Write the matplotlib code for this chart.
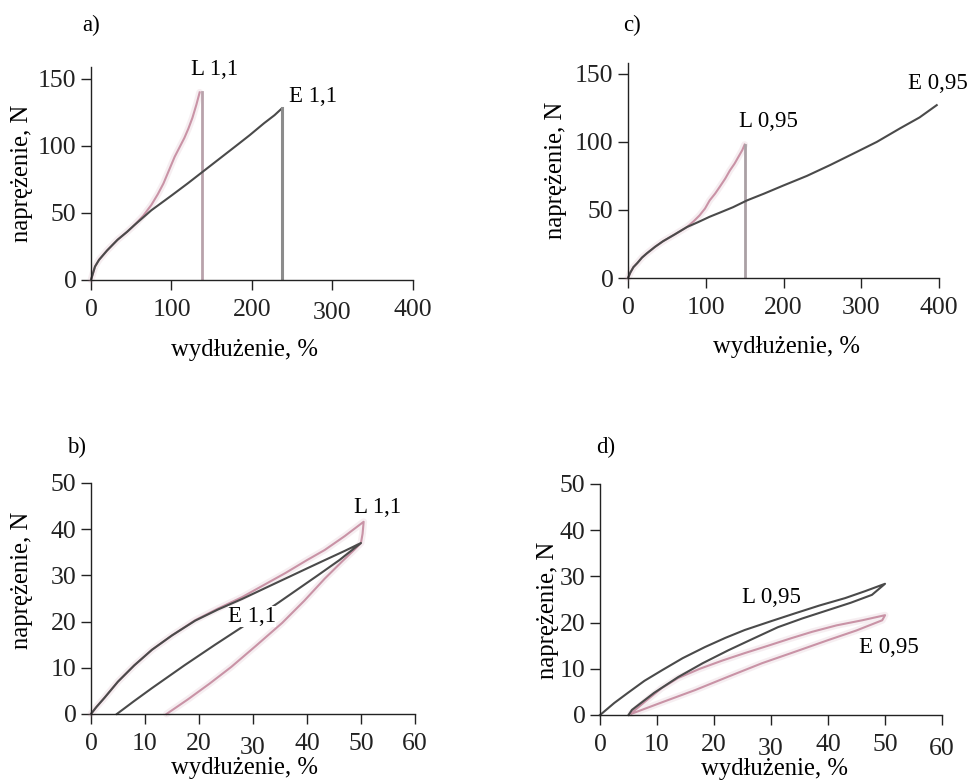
import matplotlib.pyplot as plt
from matplotlib.transforms import ScaledTranslation

plt.rcParams['font.family'] = ['Liberation Serif', 'DejaVu Serif']
plt.rcParams['font.size'] = 17

# a) tensile test to break, sample 1,1
a_L_x = [0, 2, 5, 10, 20, 33, 45, 54, 65, 75, 83, 90, 97, 104, 110, 116, 121, 126, 131, 135, 137.5, 137.5]
a_L_y = [0, 4, 10, 15, 22, 30, 36, 41, 48, 56, 64, 72, 82, 92, 99, 106, 113, 121, 131, 140, 140, 0]
a_E_x = [0, 2, 5, 10, 20, 33, 45, 54, 75, 100, 120, 135, 150, 165, 180, 197, 215, 228, 237, 237]
a_E_y = [0, 4, 10, 15, 22, 30, 36, 41, 52, 63, 72, 79, 86, 93, 100, 108, 117, 123, 128, 0]

# c) tensile test to break, sample 0,95
c_L_x = [0, 3, 7, 12, 18, 24, 35, 45, 60, 76, 85, 92, 99, 105, 112, 118, 125, 131, 137, 142, 147, 150, 150]
c_L_y = [0, 4, 8, 11, 15, 18, 23, 27, 32, 37.5, 42, 46, 51, 57, 62, 67, 73, 79, 84, 89, 94, 98, 0]
c_E_x = [0, 3, 7, 12, 18, 24, 35, 45, 60, 76, 90, 105, 118, 135, 153, 175, 200, 230, 260, 294, 320, 350, 375, 397]
c_E_y = [0, 4, 8, 11, 15, 18, 23, 27, 32, 37.5, 41, 45, 48, 52, 57, 62, 68, 75, 83, 92.6, 100, 110, 118, 127]

# b) cyclic loading to 50 %, sample 1,1
b_L_x = [0, 1, 2.5, 5, 8, 11.3, 15, 19.3, 23.5, 28, 32, 36, 40, 43.3, 47, 50.5,
         50.3, 50, 49, 46.5, 43.3, 39.5, 35.4, 30.5, 26, 22, 18, 14]
b_L_y = [0, 1.5, 3.5, 7, 10.5, 13.9, 17, 20.3, 22.8, 25.3, 27.9, 30.5, 33.3, 35.5, 38.5, 41.6,
         39, 37, 35.8, 33, 29.3, 24.5, 19.7, 14.7, 10.2, 6.6, 3.2, 0]
b_E_x = [0, 1, 2.5, 5, 8, 11.3, 15, 19.3, 23.5, 28, 32, 36, 40, 43.3, 47, 50,
         46, 42, 34.6, 28.5, 23, 17.4, 11.3, 8, 4.8]
b_E_y = [0, 1.5, 3.5, 7, 10.5, 13.9, 17, 20.2, 22.6, 24.9, 27.1, 29.3, 31.5, 33.3, 35.3, 37,
         33.3, 30, 24, 19.2, 15, 10.6, 5.6, 2.8, 0]

# d) cyclic loading to 50 %, sample 0,95
d_L_x = [0, 0.4, 2.5, 4.9, 7.8, 10.9, 14.5, 18.4, 22, 25.4, 30, 34.2, 38.5, 43, 46.5, 50,
         47.7, 44, 40, 35.5, 31.2, 27, 22.5, 18, 13.7, 9.5, 5.6, 5]
d_L_y = [0, 0.4, 2.6, 4.8, 7.4, 9.7, 12.3, 14.7, 16.7, 18.4, 20.3, 22, 23.7, 25.3, 26.8, 28.4,
         26, 24.3, 22.7, 20.9, 19, 16.6, 14, 11.2, 8.2, 4.8, 1.1, 0]
d_E_x = [5.4, 8, 10.8, 13.7, 17.5, 21.5, 25.4, 29.5, 33.5, 37.2, 41.5, 46, 50,
         49.5, 45, 40, 34, 28.4, 22.5, 16.7, 11, 5.6]
d_E_y = [0.3, 3, 5.8, 8, 10, 11.8, 13.4, 15, 16.6, 18, 19.4, 20.5, 21.6,
         20.5, 18.3, 16.2, 13.6, 11.2, 8.3, 5.4, 2.8, 0.3]

dark = '#4a4a4a'
pink = '#c993a6'


def curve(ax, x, y, color, glow=True):
    if glow:
        ax.plot(x, y, color=color, lw=5, alpha=0.15, solid_joinstyle='round',
                solid_capstyle='round', clip_on=False)
    ax.plot(x, y, color=color, lw=1.5, solid_joinstyle='round', clip_on=False)


def style(ax, xlim, ylim, xticks, yticks, ylab_pos, xlab_pos):
    ax.set_xlim(*xlim)
    ax.set_ylim(*ylim)
    ax.set_xticks(xticks)
    ax.set_yticks(yticks)
    for s in ['top', 'right']:
        ax.spines[s].set_visible(False)
    for s in ['left', 'bottom']:
        ax.spines[s].set_color('#222222')
        ax.spines[s].set_linewidth(1.0)
    ax.tick_params(direction='out', length=7.5, width=1, colors='#222222', labelsize=18.5)
    ax.tick_params(axis='x', pad=6)
    ax.tick_params(axis='y', pad=3)
    ax.set_ylabel('naprężenie, N', ha='center', va='center', fontsize=17.8)
    ax.set_xlabel('wydłużenie, %', ha='center', va='center', fontsize=17.8)
    ax.yaxis.set_label_coords(*ylab_pos)
    ax.xaxis.set_label_coords(*xlab_pos)


def drop_label(ax, fig, idx, dy):
    lab = ax.get_xticklabels()[idx]
    lab.set_transform(lab.get_transform() + ScaledTranslation(0, -dy / 72, fig.dpi_scale_trans))


fig = plt.figure(figsize=(9.72, 7.82), dpi=100)

ax_a = fig.add_axes([0.0936, 0.642, 0.3313, 0.2724])
ax_c = fig.add_axes([0.6461, 0.6445, 0.32, 0.275])
ax_b = fig.add_axes([0.0936, 0.087, 0.3333, 0.2954])
ax_d = fig.add_axes([0.6173, 0.0857, 0.3519, 0.2954])

# a)
curve(ax_a, a_L_x[:-2], a_L_y[:-2], pink)
ax_a.plot(a_L_x[-2:], a_L_y[-2:], color='#b9a2ab', lw=2.0)
curve(ax_a, a_E_x[:-1], a_E_y[:-1], dark, glow=False)
ax_a.plot(a_E_x[-2:], a_E_y[-2:], color='#8c8c8c', lw=2.2)
ax_a.text(154, 157, 'L 1,1', ha='center', va='center', fontsize=16.5)
ax_a.text(276, 137, 'E 1,1', ha='center', va='center', fontsize=16.5)
style(ax_a, (0, 400), (0, 159), [0, 100, 200, 300, 400], [0, 50, 100, 150],
      (-0.214, 0.5), (0.478, -0.329))

# c)
curve(ax_c, c_L_x[:-1], c_L_y[:-1], pink)
ax_c.plot(c_L_x[-2:], c_L_y[-2:], color='#aaa0a5', lw=2.0)
curve(ax_c, c_E_x, c_E_y, dark, glow=False)
ax_c.text(180, 115, 'L 0,95', ha='center', va='center', fontsize=16.5)
ax_c.text(399, 143, 'E 0,95', ha='center', va='center', fontsize=16.5)
style(ax_c, (0, 400), (0, 158), [0, 100, 200, 300, 400], [0, 50, 100, 150],
      (-0.23, 0.5), (0.51, -0.321))

# b)
curve(ax_b, b_L_x, b_L_y, pink)
curve(ax_b, b_E_x, b_E_y, dark, glow=False)
ax_b.text(53.1, 44.6, 'L 1,1', ha='center', va='center', fontsize=16.5)
ax_b.text(29.8, 21, 'E 1,1', ha='center', va='center', fontsize=16.5,
          bbox=dict(facecolor='white', edgecolor='none', pad=0))
style(ax_b, (0, 60), (0, 50), [0, 10, 20, 30, 40, 50, 60], [0, 10, 20, 30, 40, 50],
      (-0.213, 0.58), (0.475, -0.236))

# d)
curve(ax_d, d_E_x, d_E_y, pink)
curve(ax_d, d_L_x, d_L_y, dark, glow=False)
ax_d.text(30, 25.5, 'L 0,95', ha='center', va='center', fontsize=16.5)
ax_d.text(50.7, 14.5, 'E 0,95', ha='center', va='center', fontsize=16.5)
style(ax_d, (0, 60), (0, 50), [0, 10, 20, 30, 40, 50, 60], [0, 10, 20, 30, 40, 50],
      (-0.152, 0.455), (0.509, -0.236))

# scanned original has a few tick labels sitting lower
drop_label(ax_a, fig, 3, 2.5)
drop_label(ax_b, fig, 3, 3)
drop_label(ax_d, fig, 3, 3)
drop_label(ax_d, fig, 6, 3)

fig.text(91 / 972, 1 - 25 / 782, 'a)', ha='center', va='center', fontsize=16.5)
fig.text(632 / 972, 1 - 25 / 782, 'c)', ha='center', va='center', fontsize=16.5)
fig.text(77 / 972, 1 - 447 / 782, 'b)', ha='center', va='center', fontsize=16.5)
fig.text(606 / 972, 1 - 447 / 782, 'd)', ha='center', va='center', fontsize=16.5)

fig.savefig('out.png', dpi=100)
